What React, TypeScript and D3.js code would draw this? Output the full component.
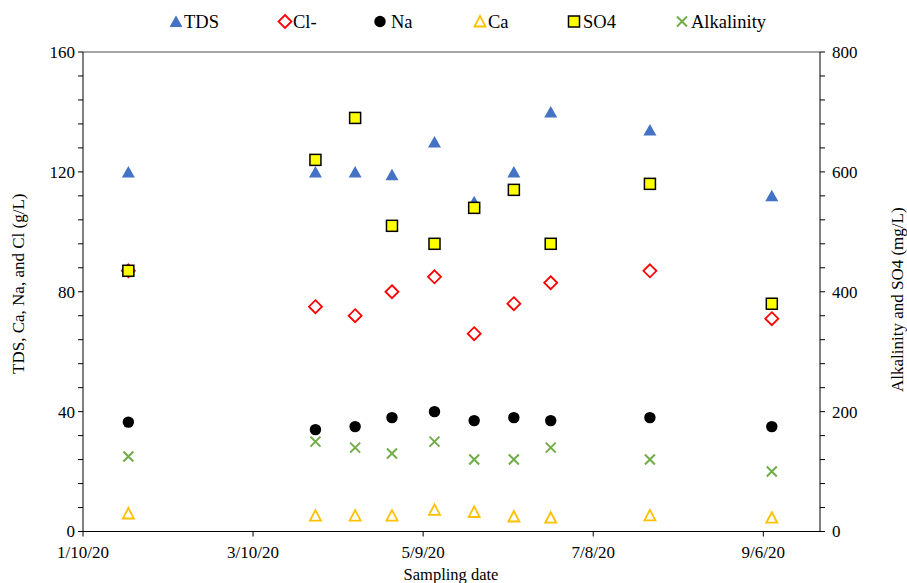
import * as d3 from "d3";

const dates = ["2020-01-26", "2020-04-01", "2020-04-15", "2020-04-28", "2020-05-13", "2020-05-27", "2020-06-10", "2020-06-23", "2020-07-28", "2020-09-09"];
const tds = [120, 120, 120, 119, 130, 110, 120, 140, 134, 112];
const cl = [87, 75, 72, 80, 85, 66, 76, 83, 87, 71];
const na = [36.5, 34, 35, 38, 40, 37, 38, 37, 38, 35];
const ca = [6, 5.3, 5.3, 5.3, 7.2, 6.5, 5, 4.6, 5.4, 4.6];
const so4 = [435, 620, 690, 510, 480, 540, 570, 480, 580, 380];
const alkalinity = [125, 150, 140, 130, 150, 120, 120, 140, 120, 100];
const xTickDates = ["2020-01-10", "2020-03-10", "2020-05-09", "2020-07-08", "2020-09-06"];
const leftTicks = [0, 40, 80, 120, 160];
const rightTicks = [0, 200, 400, 600, 800];

const W = 907, H = 583;
const m = { left: 83, right: 820, top: 52, bottom: 531.5 };
const font = "'Liberation Serif', 'Times New Roman', serif";
const parse = d3.timeParse("%Y-%m-%d");

type Kind = "triUp" | "diamond" | "circle" | "triOpen" | "square" | "cross";
const series: { name: string; values: number[]; axis: "l" | "r"; kind: Kind }[] = [
  { name: "TDS", values: tds, axis: "l", kind: "triUp" },
  { name: "Cl-", values: cl, axis: "l", kind: "diamond" },
  { name: "Na", values: na, axis: "l", kind: "circle" },
  { name: "Ca", values: ca, axis: "l", kind: "triOpen" },
  { name: "SO4", values: so4, axis: "r", kind: "square" },
  { name: "Alkalinity", values: alkalinity, axis: "r", kind: "cross" },
];

function Marker({ kind, x, y }: { kind: Kind; x: number; y: number }) {
  const t = `translate(${x},${y})`;
  if (kind === "triUp")
    return <path transform={t} d="M0,-6 L6.5,5.5 L-6.5,5.5 Z" fill="#4472C4" />;
  if (kind === "triOpen")
    return <path transform={t} d="M0,-5.5 L5.5,5 L-5.5,5 Z" fill="#fff" stroke="#FFC000" strokeWidth={1.8} />;
  if (kind === "diamond")
    return <path transform={t} d="M0,-6.5 L6.5,0 L0,6.5 L-6.5,0 Z" fill="#fff" stroke="#FF0000" strokeWidth={1.8} />;
  if (kind === "circle")
    return <circle transform={t} r={5.7} fill="#000" />;
  if (kind === "square")
    return <rect transform={t} x={-5.5} y={-5.5} width={11} height={11} fill="#FFFF00" stroke="#000" strokeWidth={1.5} />;
  return (
    <path transform={t} d="M-5,-5 L5,5 M-5,5 L5,-5" stroke="#70AD47" strokeWidth={2} fill="none" />
  );
}

export default function App() {
  const x = d3.scaleTime().domain([parse("2020-01-10")!, parse("2020-09-26")!]).range([m.left, m.right]);
  const yl = d3.scaleLinear().domain([0, 160]).range([m.bottom, m.top]);
  const yr = d3.scaleLinear().domain([0, 800]).range([m.bottom, m.top]);
  const fmt = d3.timeFormat("%-m/%-d/%y");
  const minorL = d3.range(0, 161, 8);
  const minorR = d3.range(0, 801, 40);

  const legendMarkX = [176, 285, 380, 480, 574, 682];
  const legendTextX = [184, 293, 391, 488, 583, 691];

  return (
    <svg width={W} height={H} style={{ position: "absolute", left: 0, top: 0, background: "#fff" }} fontFamily={font}>
      {/* frame */}
      <line x1={m.left} x2={m.right} y1={m.top} y2={m.top} stroke="#888" strokeWidth={1.3} />
      <line x1={m.left} x2={m.left} y1={m.top} y2={m.bottom} stroke="#000" />
      <line x1={m.right} x2={m.right} y1={m.top} y2={m.bottom} stroke="#000" />
      <line x1={m.left} x2={m.right} y1={m.bottom} y2={m.bottom} stroke="#000" />

      {/* left axis */}
      {minorL.map((v) => (
        <line key={"ml" + v} x1={m.left - 5} x2={m.left} y1={yl(v)} y2={yl(v)} stroke="#000" />
      ))}
      {leftTicks.map((v) => (
        <text key={"l" + v} x={m.left - 8} y={yl(v)} dy="0.35em" textAnchor="end" fontSize={17}>{v}</text>
      ))}
      {/* right axis */}
      {minorR.map((v) => (
        <line key={"mr" + v} x1={m.right} x2={m.right + 5} y1={yr(v)} y2={yr(v)} stroke="#000" />
      ))}
      {rightTicks.map((v) => (
        <text key={"r" + v} x={m.right + 12} y={yr(v)} dy="0.35em" textAnchor="start" fontSize={17}>{v}</text>
      ))}
      {/* x axis */}
      {xTickDates.map((s) => {
        const d = parse(s)!;
        return (
          <g key={s}>
            <line x1={x(d)} x2={x(d)} y1={m.bottom} y2={m.bottom + 5} stroke="#000" />
            <text x={x(d)} y={m.bottom + 26} textAnchor="middle" fontSize={17}>{fmt(d)}</text>
          </g>
        );
      })}

      {/* axis titles */}
      <text x={451} y={579.5} textAnchor="middle" fontSize={16.5}>Sampling date</text>
      <text transform={`translate(24,${(m.top + m.bottom) / 2 - 8}) rotate(-90)`} textAnchor="middle" fontSize={17}>
        TDS, Ca, Na, and Cl (g/L)
      </text>
      <text transform={`translate(903,${(m.top + m.bottom) / 2 + 8}) rotate(-90)`} textAnchor="middle" fontSize={17}>
        Alkalinity and SO4 (mg/L)
      </text>

      {/* data */}
      {series.map((s) => (
        <g key={s.name}>
          {s.values.map((v, i) => (
            <Marker key={i} kind={s.kind} x={x(parse(dates[i])!)} y={(s.axis === "l" ? yl : yr)(v)} />
          ))}
        </g>
      ))}

      {/* legend */}
      {series.map((s, i) => (
        <g key={"lg" + s.name}>
          <Marker kind={s.kind} x={legendMarkX[i]} y={21.5} />
          <text x={legendTextX[i]} y={21.5} dy="0.35em" fontSize={18.5}>{s.name}</text>
        </g>
      ))}
    </svg>
  );
}
